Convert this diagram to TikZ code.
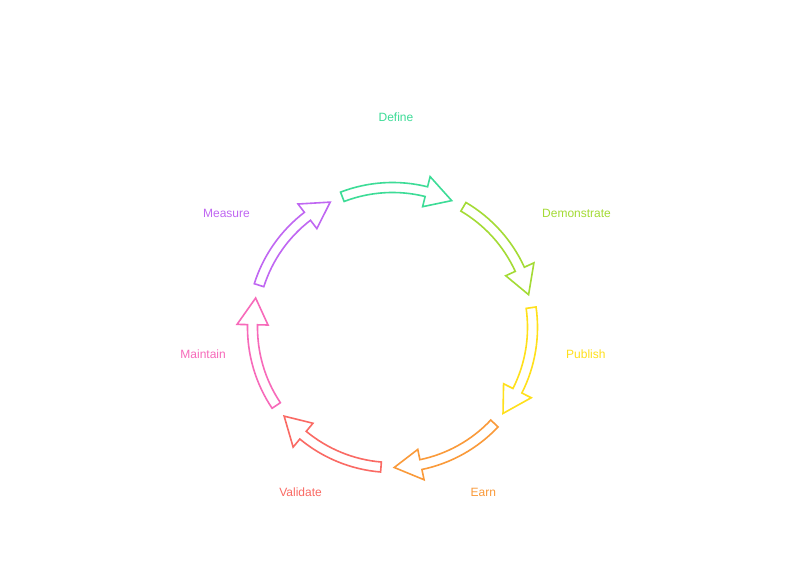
\documentclass[tikz,border=0pt]{standalone}
\usepackage{fontspec}
\setmainfont{Liberation Sans}
\definecolor{cDefine}{HTML}{3DDC97}
\definecolor{cDemo}{HTML}{A4DB35}
\definecolor{cPublish}{HTML}{FFE01B}
\definecolor{cEarn}{HTML}{FA9A3A}
\definecolor{cValidate}{HTML}{FA6A64}
\definecolor{cMaintain}{HTML}{F76ABA}
\definecolor{cMeasure}{HTML}{C067F2}
\tikzset{
  cyclearrow/.style={line width=1.6pt, line join=miter, fill=white},
  steplabel/.style={inner sep=0pt, font=\fontsize{12}{14}\selectfont}
}
\begin{document}
\begin{tikzpicture}[x=1pt,y=1pt]
\useasboundingbox (0,0) rectangle (792,568);
\fill[white] (0,0) rectangle (792,568);
\coordinate (C) at (392.5,240.5);
\foreach \col/\i in {cDefine/0,cDemo/1,cPublish/2,cEarn/3,cValidate/4,cMaintain/5,cMeasure/6}{
  \pgfmathsetmacro\ta{111-51.43*\i}
  \pgfmathsetmacro\tb{\ta-35}
  \pgfmathsetmacro\tt{\ta-46}
  \draw[cyclearrow, draw=\col]
    ([shift={(\ta:145pt)}]C) arc[start angle=\ta, end angle=\tb, radius=145pt]
    -- ([shift={(\tb:155.5pt)}]C)
    -- ([shift={(\tt:140pt)}]C)
    -- ([shift={(\tb:124.5pt)}]C)
    -- ([shift={(\tb:135pt)}]C)
    arc[start angle=\tb, end angle=\ta, radius=135pt]
    -- cycle;
}
\node[steplabel, text=cDefine] (define) at (396,451) {Define};
\node[steplabel, text=cDemo, anchor=west] (demonstrate) at (542,355) {Demonstrate};
\node[steplabel, text=cPublish, anchor=west] (publish) at (566,213.5) {Publish};
\node[steplabel, text=cEarn, anchor=west] (earn) at (470.5,75.5) {Earn};
\node[steplabel, text=cValidate, anchor=east] (validate) at (322,75.5) {Validate};
\node[steplabel, text=cMaintain, anchor=east] (maintain) at (226,213.5) {Maintain};
\node[steplabel, text=cMeasure, anchor=east] (measure) at (250,355) {Measure};
\end{tikzpicture}
\end{document}
